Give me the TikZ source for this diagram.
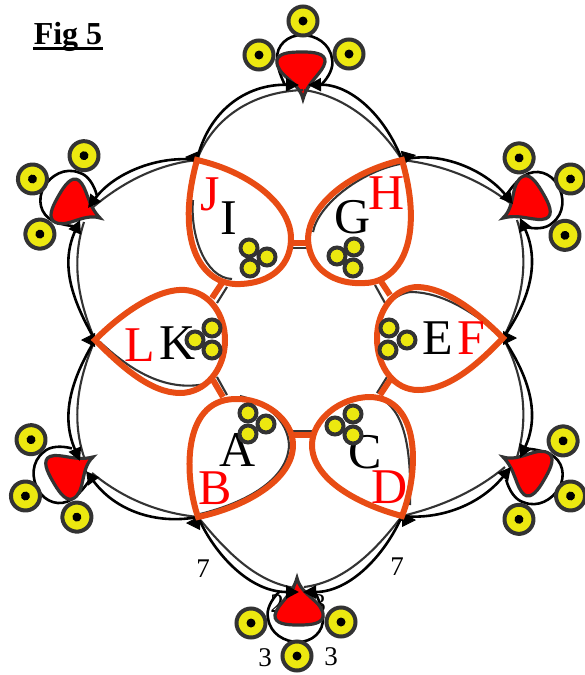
\documentclass[tikz,border=0pt]{standalone}
\usepackage{fontspec}
\setmainfont{Liberation Serif}
\usetikzlibrary{arrows.meta, calc}
\definecolor{petal}{RGB}{232,76,20}
\definecolor{rim}{RGB}{51,51,51}
\definecolor{eye}{RGB}{236,232,16}
\definecolor{tear}{RGB}{255,0,0}
\tikzset{
  blackarc/.style={black, line width=2.6pt, -{Triangle[length=13pt,width=13pt]}},
  rimarc/.style={rim, line width=2.1pt},
  hubtip/.style={black, line width=0.8pt, -{Triangle[length=14pt,width=14pt]}},
  petalline/.style={petal, line width=6pt},
  eyering/.style={draw=rim, fill=eye, line width=4pt},
  bigtxt/.style={font=\fontsize{50}{50}\selectfont, inner sep=0pt},
  numtxt/.style={font=\fontsize{27}{27}\selectfont, inner sep=0pt}
}
% one knot: the red drop with its loop and three eyes, tip at the origin
\newcommand{\knot}[4]{
  \begin{scope}[shift={(#1,#2)},rotate=#3]
    \draw[black, line width=2.6pt, fill=white] (-18,14) .. controls (-26,22) and (-31,32) .. (-29,40) .. controls (-27,56) and (-12,64) .. (1,64) .. controls (15,64) and (27,54) .. (26,39) .. controls (25,30) and (22,22) .. (18,14);
    #4
    \draw[rim, line width=3.2pt, fill=tear, line join=miter] (0,0) .. controls (4,18) and (28,24) .. (26,39) .. controls (24,47) and (10,47) .. (0,47) .. controls (-10,47) and (-23,46) .. (-22,37) .. controls (-20,26) and (-5,18) .. (0,0) -- cycle;
    \draw[eyering] (-46,45) circle (14.5);
    \fill[black] (-46,45) circle (4.5);
    \draw[eyering] (44,44) circle (14.5);
    \fill[black] (44,44) circle (4.5);
    \draw[eyering] (0,78) circle (14.5);
    \fill[black] (0,78) circle (4.5);
  \end{scope}
}
\begin{document}
\begin{tikzpicture}[x=1pt,y=-1pt]
  \useasboundingbox (0,0) rectangle (584,675);
  \coordinate (hubJ) at (197,160);
  \coordinate (hubH) at (402,160);
  \coordinate (hubL) at (95,340);
  \coordinate (hubF) at (503,338);
  \coordinate (hubB) at (198,517);
  \coordinate (hubD) at (402,516);
  % Knots
  \knot{297}{578}{0}{\node[numtxt] (numa) at (-20,26) {2}; \node[numtxt] (numb) at (22,26) {3};}
  \knot{93}{457}{-60}{}
  \knot{100}{218}{-120}{}
  \knot{303}{99}{180}{}
  \knot{503}{218}{120}{}
  \knot{503}{457}{60}{}
  % Double arcs, inner ones
  \draw[rimarc] (hubJ) .. controls (212,120) and (250,92) .. (303,90);
  \draw[rimarc] (hubH) .. controls (380,125) and (345,96) .. (304,90);
  \draw[rimarc] (hubJ) .. controls (160,164) and (125,180) .. (92,208);
  \draw[rimarc] (hubL) .. controls (80,305) and (70,265) .. (84,222);
  \draw[rimarc] (hubL) .. controls (80,375) and (70,415) .. (84,457);
  \draw[rimarc] (hubB) .. controls (160,513) and (125,500) .. (92,473);
  \draw[rimarc] (hubB) .. controls (225,550) and (255,582) .. (295,588);
  \draw[rimarc] (hubD) .. controls (376,550) and (345,582) .. (304,587);
  \draw[rimarc] (hubD) .. controls (440,507) and (475,492) .. (505,467);
  \draw[rimarc] (hubF) .. controls (522,372) and (530,415) .. (517,457);
  \draw[rimarc] (hubF) .. controls (522,303) and (530,262) .. (517,220);
  \draw[rimarc] (hubH) .. controls (445,165) and (480,180) .. (510,203);
  % Double arcs, outer ones
  \draw[blackarc] (hubJ) .. controls (208,112) and (245,84) .. (299,85);
  \draw[blackarc] (hubH) .. controls (385,115) and (350,84) .. (308,85);
  \draw[blackarc] (hubJ) .. controls (160,155) and (115,172) .. (88,208);
  \draw[blackarc] (hubL) .. controls (72,300) and (60,265) .. (80,220);
  \draw[blackarc] (hubL) .. controls (72,378) and (60,415) .. (80,461);
  \draw[blackarc] (hubB) .. controls (155,525) and (115,510) .. (86,471);
  \draw[blackarc] (hubB) .. controls (215,555) and (250,592) .. (299,592);
  \draw[blackarc] (hubD) .. controls (385,555) and (350,592) .. (303,592);
  \draw[blackarc] (hubD) .. controls (440,520) and (480,505) .. (511,467);
  \draw[blackarc] (hubF) .. controls (530,378) and (540,415) .. (520,458);
  \draw[blackarc] (hubF) .. controls (530,300) and (540,262) .. (520,218);
  \draw[blackarc] (hubH) .. controls (440,150) and (485,170) .. (513,204);
  % Tips at the hubs
  \draw[hubtip] ($(hubJ)+(3,-2)$) -- ++(-15,-1);
  \draw[hubtip] ($(hubH)+(-1,-2)$) -- ++(15,-3);
  \draw[hubtip] ($(hubL)+(1,0)$) -- ++(-15,0);
  \draw[hubtip] ($(hubF)+(-1,0)$) -- ++(15,0);
  \draw[hubtip] ($(hubB)+(3,6)$) -- ++(-15,0);
  \draw[hubtip] ($(hubD)+(-1,4)$) -- ++(15,0);
  % Inner edges of the petals
  \draw[rimarc] (313,232) .. controls (318,205) and (360,172) .. (400,164);
  \draw[rimarc] (193,200) .. controls (190,235) and (205,278) .. (232,279);
  \draw[rimarc] (240,396) .. controls (265,402) and (288,420) .. (289,445) .. controls (288,480) and (245,503) .. (200,514);
  \draw[rimarc] (375,396) .. controls (400,405) and (412,435) .. (410,505);
  \draw[rimarc] (100,342) .. controls (130,370) and (165,392) .. (205,384);
  \draw[rimarc] (499,333) .. controls (475,315) and (445,292) .. (410,292) .. controls (390,295) and (375,315) .. (377,340) .. controls (378,358) and (385,372) .. (392,378);
  % Short links
  \draw[rimarc] (293,248) -- (308,248);
  \draw[rimarc] (227,287) -- (217,303);
  \draw[rimarc] (217,377) -- (227,395);
  \draw[rimarc] (292,431) -- (313,431);
  \draw[rimarc] (377,393) -- (387,377);
  \draw[rimarc] (375,285) -- (385,303);
  \draw[petalline] (292,243) -- (309,243);
  \draw[petalline] (222,283) -- (212,298);
  \draw[petalline] (213,380) -- (223,397);
  \draw[petalline] (292,435) -- (313,435);
  \draw[petalline] (380,395) -- (390,380);
  \draw[petalline] (380,280) -- (390,295);
  % Petals
  \draw[petalline] (hubJ) .. controls (250,172) and (292,205) .. (291,240) .. controls (290,270) and (265,285) .. (235,284) .. controls (200,282) and (175,240) .. (hubJ) -- cycle;
  \draw[petalline] (hubH) .. controls (350,172) and (308,205) .. (308,240) .. controls (310,270) and (335,285) .. (365,283) .. controls (400,282) and (425,240) .. (hubH) -- cycle;
  \draw[petalline] (hubL) .. controls (125,310) and (160,288) .. (185,290) .. controls (210,292) and (225,315) .. (225,340) .. controls (225,370) and (205,393) .. (180,393) .. controls (150,393) and (120,365) .. (hubL) -- cycle;
  \draw[petalline] (hubF) .. controls (475,310) and (445,288) .. (418,287) .. controls (395,287) and (377,310) .. (377,338) .. controls (377,368) and (395,390) .. (418,390) .. controls (450,390) and (480,362) .. (hubF) -- cycle;
  \draw[petalline] (hubB) .. controls (185,480) and (180,400) .. (235,399) .. controls (265,398) and (293,420) .. (293,445) .. controls (293,480) and (245,507) .. (hubB) -- cycle;
  \draw[petalline] (hubD) .. controls (420,470) and (420,398) .. (370,397) .. controls (340,397) and (312,420) .. (312,445) .. controls (312,480) and (360,505) .. (hubD) -- cycle;
  % Letters
  \node[bigtxt, tear] (txtJ) at (210,194) {J};
  \node[bigtxt] (txtI) at (229,218) {I};
  \node[bigtxt] (txtG) at (353,217) {G};
  \node[bigtxt, tear] (txtH) at (387,193) {H};
  \node[bigtxt, tear] (txtL) at (140,345) {L};
  \node[bigtxt] (txtK) at (178,343) {K};
  \node[bigtxt] (txtE) at (438,338) {E};
  \node[bigtxt, tear] (txtF) at (471,338) {F};
  \node[bigtxt] (txtC) at (365,452) {C};
  \node[bigtxt] (txtA) at (238,450) {A};
  \node[bigtxt, tear] (txtB) at (215,488) {B};
  \node[bigtxt, tear] (txtD) at (390,487) {D};
  % Small eyes in the petals
  \foreach \ex/\ey in {249/248, 267/257, 250/268, 337/256, 354/247, 353/268, 195/340, 212/328, 212/350, 389/328, 407/340, 388/350, 248/413, 266/424, 248/434, 353/414, 335/426, 353/435}
    \draw[eyering] (\ex,\ey) circle (8.5);
  % Numbers
  \node[numtxt] (numc) at (203,569) {7};
  \node[numtxt] (numd) at (397,567) {7};
  \node[numtxt] (nume) at (265,658) {3};
  \node[numtxt] (numf) at (331,657) {3};
  % Title
  \node[font=\fontsize{32}{32}\selectfont\bfseries, inner sep=0pt, anchor=base] (title) at (68,44) {Fig 5};
  \draw[black, line width=3pt] (33,48) -- (103,48);
\end{tikzpicture}
\end{document}
